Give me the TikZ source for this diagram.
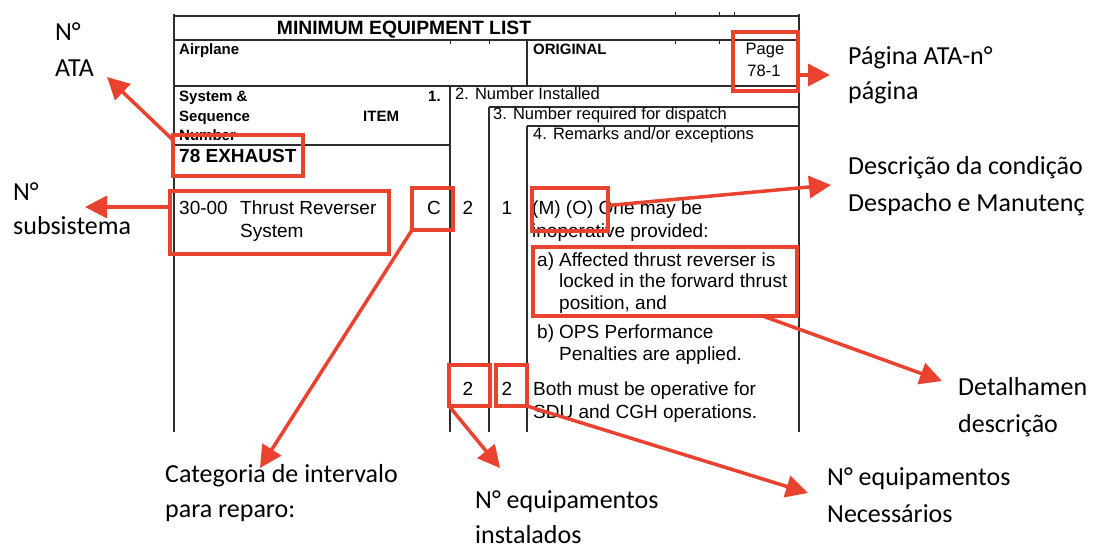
\documentclass[tikz,border=0pt]{standalone}
\usepackage{fontspec}
\setmainfont{Carlito}
\newfontfamily\formfont{Liberation Sans}
\usetikzlibrary{arrows.meta,calc,fit}
\definecolor{markred}{RGB}{233,67,47}
\definecolor{ruleink}{RGB}{45,45,45}
\begin{document}
\begin{tikzpicture}[x=1pt,y=-1pt,
  formrule/.style={draw=ruleink,line width=1.3pt},
  formtick/.style={draw=ruleink,line width=1pt},
  rowtxt/.style={anchor=base west,inner sep=0pt,font=\formfont\fontsize{19}{23}\selectfont},
  rowmid/.style={rowtxt,anchor=base},
  headtxt/.style={anchor=base west,inner sep=0pt,font=\formfont\fontsize{16.5}{19}\selectfont},
  headmid/.style={headtxt,anchor=base},
  headbold/.style={anchor=base west,inner sep=0pt,font=\formfont\bfseries\fontsize{15}{18}\selectfont},
  titletxt/.style={anchor=base,inner sep=0pt,font=\formfont\bfseries\fontsize{19.3}{23}\selectfont},
  labeltxt/.style={anchor=base west,inner sep=0pt,font=\fontsize{26}{31}\selectfont,text=black},
  markbox/.style={draw=markred,line width=4pt,inner sep=0pt,outer sep=0pt},
  callout/.style={draw=markred,line width=3.5pt,-{Triangle[length=22pt,width=22pt]}}
]
\useasboundingbox (0,0) rectangle (1095,545);
\clip (0,0) rectangle (1095,545);
\fill[white] (0,0) rectangle (1095,545);

% ---- form ruling ----
\draw[formrule] (174,16) -- (799,16);
\draw[formrule] (174,40) -- (799,40);
\draw[formrule] (527,40) -- (527,86);
\draw[formrule] (174,86) -- (799,86);
\draw[formrule] (174,145) -- (450,145);
\draw[formrule] (489,107) -- (799,107);
\draw[formrule] (527,126) -- (799,126);
\draw[formrule] (174,14) -- (174,432);
\draw[formrule] (450,86) -- (450,432);
\draw[formrule] (489,107) -- (489,432);
\draw[formrule] (527,126) -- (527,432);
\draw[formrule] (799,14) -- (799,432);
\foreach \tx in {675,719,734} \draw[formtick] (\tx,12) -- (\tx,16);
\foreach \tx in {450,489,675,719} \draw[formtick] (\tx,40) -- (\tx,44);

% ---- form header ----
\node[titletxt] (ttl) at (404,35) {MINIMUM EQUIPMENT LIST};
\node[headbold] (hairplane) at (179,55) {Airplane};
\node[headbold] (horiginal) at (533,55) {ORIGINAL};
\node[headmid] (hpage) at (765,55) {Page};
\node[headmid] (hpagenum) at (764,77) {78-1};
\node[headbold] (hsys) at (179,102) {System \&};
\node[headbold] (hseq) at (179,122) {Sequence};
\node[headbold] (hnum) at (179,141) {Number};
\node[headbold] (hitem) at (363,122) {ITEM};
\node[headbold] (hone) at (428,102) {1.};
\node[headtxt] (htwo) at (455,100) {2. Number Installed};
\node[headtxt] (hthree) at (493,120) {3. Number required for dispatch};
\node[headtxt] (hfour) at (533,140) {4. Remarks and/or exceptions};
\node[anchor=base west,inner sep=0pt,font=\formfont\bfseries\fontsize{19}{23}\selectfont] (hata) at (179,163) {78 EXHAUST};

% ---- item row ----
\node[rowtxt] (rcode) at (179,215) {30-00};
\node[rowtxt] (rname) at (240,215) {Thrust Reverser};
\node[rowtxt] (rname2) at (240,238) {System};
\node[rowmid] (rcat) at (434,215) {C};
\node[rowmid] (rinst) at (468,215) {2};
\node[rowmid] (rreq) at (507,215) {1};
\node[rowtxt] (rmo) at (532,215) {(M) (O) One may be};
\node[rowtxt] (rmo2) at (532,238) {inoperative provided:};
\node[rowtxt] (ra) at (537,267) {a)};
\node[rowtxt] (ra1) at (559,267) {Affected thrust reverser is};
\node[rowtxt] (ra2) at (559,288) {locked in the forward thrust};
\node[rowtxt] (ra3) at (559,310) {position, and};
\node[rowtxt] (rb) at (537,338) {b)};
\node[rowtxt] (rb1) at (559,338) {OPS Performance};
\node[rowtxt] (rb2) at (559,360) {Penalties are applied.};
\node[rowmid] (rinst2) at (468,395) {2};
\node[rowmid] (rreq2) at (507,395) {2};
\node[rowtxt] (rboth) at (533,395) {Both must be operative for};
\node[rowtxt] (rboth2) at (533,418) {SDU and CGH operations.};

% ---- highlight boxes ----
\node[markbox,fit={(173,135) (303,176)}] (bxata) {};
\node[markbox,fit={(170,191) (389,254)}] (bxsub) {};
\node[markbox,fit={(412,188) (453,230)}] (bxcat) {};
\node[markbox,fit={(532,188) (608,231)}] (bxmo) {};
\node[markbox,fit={(533,247) (797,316)}] (bxa) {};
\node[markbox,fit={(449,365) (490,406)}] (bxinst) {};
\node[markbox,fit={(496,365) (527,406)}] (bxreq) {};
\node[markbox,fit={(733,32) (798,91)}] (bxpage) {};

% ---- explanatory labels ----
\node[labeltxt] (lata1) at (55,41) {N°};
\node[labeltxt] (lata2) at (55,77) {ATA};
\node[labeltxt] (lsub1) at (13,201) {N°};
\node[labeltxt] (lsub2) at (13,235) {subsistema};
\node[labeltxt] (lpage1) at (848,65) {Página ATA-n°};
\node[labeltxt] (lpage2) at (848,100) {página};
\node[labeltxt] (ldesc1) at (848,175) {Descrição da condição};
\node[labeltxt] (ldesc2) at (848,212) {Despacho e Manutenç};
\node[labeltxt] (ldet1) at (958,395) {Detalhamen};
\node[labeltxt] (ldet2) at (958,432) {descrição};
\node[labeltxt] (lreq1) at (827,485) {N° equipamentos};
\node[labeltxt] (lreq2) at (827,522) {Necessários};
\node[labeltxt] (lcat1) at (165,482) {Categoria de intervalo};
\node[labeltxt] (lcat2) at (165,517) {para reparo:};
\node[labeltxt] (linst1) at (475,508) {N° equipamentos};
\node[labeltxt] (linst2) at (475,543) {instalados};

% ---- callout arrows ----
\coordinate (tipata) at (107,77);
\coordinate (tipsub) at (85,207);
\coordinate (tippage) at (830,75);
\coordinate (tipmo) at (831,185);
\coordinate (tipa) at (942,381);
\coordinate (tipcat) at (260,468);
\coordinate (tipinst) at (500,468);
\coordinate (tipreq) at (808,493);

\draw[callout] ($(bxata.north west)+(0,5)$) -- (tipata);
\draw[callout] (bxsub.west |- tipsub) -- (tipsub);
\draw[callout] (bxpage.east |- tippage) -- (tippage);
\draw[callout] ($(bxmo.east)+(0,-4)$) -- (tipmo);
\draw[callout] ($(bxa.south west)!0.87!(bxa.south east)$) -- (tipa);
\draw[callout] (bxcat.south west) -- (tipcat);
\draw[callout] (bxinst.south west) -- (tipinst);
\draw[callout] (bxreq.south east) -- (tipreq);
\end{tikzpicture}
\end{document}
